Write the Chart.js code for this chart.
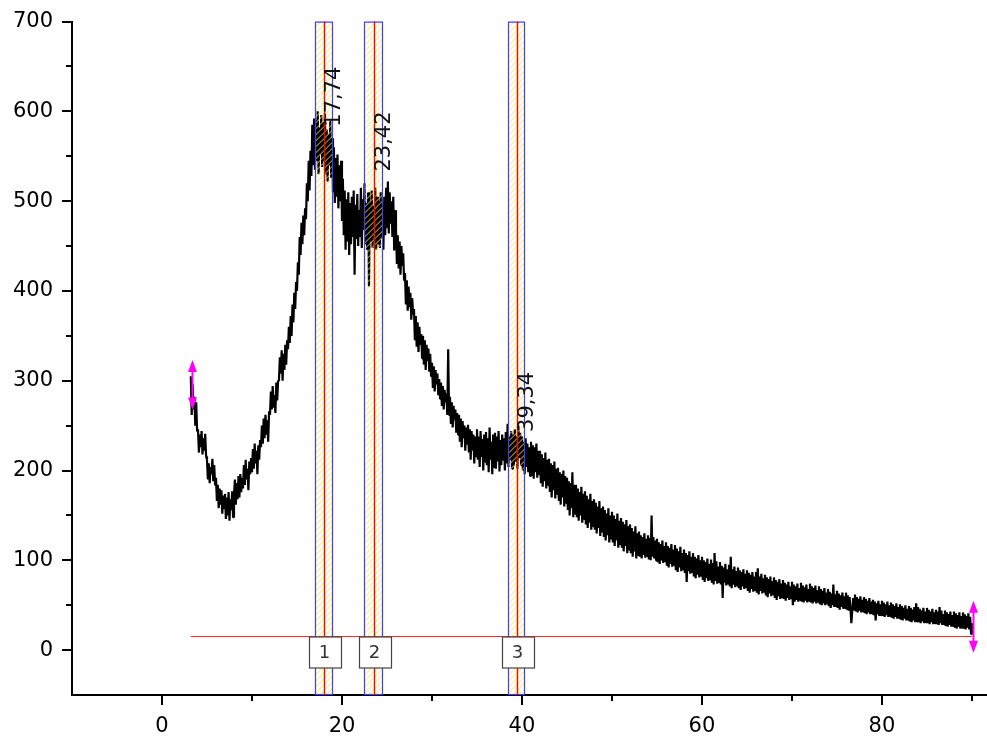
<!DOCTYPE html>
<html><head><meta charset="utf-8">
<script src="https://cdn.jsdelivr.net/npm/chart.js@4"></script>
<style>html,body{margin:0;padding:0;background:#fff;} #wrap{width:987px;height:747px;position:relative;}</style>
</head><body><div id="wrap"><canvas id="c" width="987" height="747"></canvas></div>
<script>
// ---- data ----
const xStart = 3.2, xStep = 0.1;   // sampling grid of the measured pattern (2θ, degrees)
const intensity = [
 305, 262, 296, 268, 282, 250, 276, 244,
 246, 220, 240, 226, 244, 218, 236, 222, 241, 216,
 212, 190, 208, 186, 204, 196, 213, 188, 206, 184,
 192, 166, 184, 158, 180, 162, 178, 152, 172, 158,
 174, 146, 170, 150, 176, 144, 168, 156, 177, 148,
 172, 190, 162, 186, 168, 194, 170, 196, 176, 192,
 180, 206, 184, 212, 190, 202, 178, 210, 196, 214,
 198, 224, 202, 230, 208, 222, 196, 228, 212, 234,
 226, 250, 230, 258, 236, 262, 240, 256, 232, 266,
 262, 288, 268, 294, 270, 284, 264, 298, 278, 300,
 302, 326, 308, 334, 300, 330, 312, 340, 318, 345,
 335, 360, 342, 372, 350, 385, 365, 398, 380, 410,
 400, 432, 418, 460, 440, 476, 452, 484, 462, 492,
 480, 520, 500, 545, 512, 556, 528, 585, 540, 592,
 535, 590, 545, 600, 530, 582, 552, 596, 538, 588,
 545, 598, 530, 580, 522, 575, 540, 590, 526, 570,
 510, 560, 498, 548, 505, 552, 492, 540, 500, 545,
 478, 525, 462, 512, 446, 502, 455, 510, 440, 498,
 452, 505, 460, 512, 418, 496, 458, 508, 450, 490,
 460, 515, 448, 502, 468, 520, 452, 498, 446, 510,
 405, 500, 455, 512, 448, 495, 462, 515, 446, 505,
 452, 500, 448, 510, 458, 495, 446, 505, 462, 515,
 470, 522, 464, 510, 475, 500, 460, 505, 445, 490,
 470, 430, 462, 425, 455, 418, 450, 428, 442, 412,
 420, 385, 412, 378, 405, 382, 398, 368, 392, 375,
 380, 345, 372, 338, 365, 332, 360, 340, 352, 325,
 350, 318, 345, 312, 340, 322, 336, 310, 330, 305,
 320, 292, 316, 288, 312, 296, 308, 284, 302, 280,
 298, 272, 294, 268, 290, 276, 286, 262, 335, 262,
 282, 252, 276, 248, 272, 256, 268, 242, 264, 240,
 262, 232, 258, 226, 255, 236, 250, 222, 248, 230,
 251, 220, 246, 212, 244, 222, 240, 208, 238, 216,
 246, 212, 238, 204, 244, 215, 235, 200, 240, 210,
 243, 206, 236, 198, 248, 212, 232, 196, 240, 204,
 242, 202, 238, 210, 244, 199, 234, 206, 240, 212,
 236, 200, 243, 208, 252, 204, 238, 212, 244, 202,
 240, 205, 246, 210, 238, 202, 250, 214, 242, 206,
 238, 200, 232, 196, 236, 204, 230, 198, 226, 194,
 232, 194, 228, 191, 226, 198, 230, 192, 222, 196,
 222, 186, 218, 182, 214, 188, 220, 180, 212, 184,
 213, 176, 208, 170, 206, 178, 210, 169, 202, 174,
 203, 166, 198, 162, 196, 170, 200, 160, 194, 164,
 192, 156, 188, 150, 186, 158, 198, 148, 184, 152,
 184, 148, 180, 144, 176, 150, 182, 142, 174, 146,
 177, 140, 172, 136, 168, 142, 174, 134, 166, 138,
 168, 134, 164, 130, 160, 136, 166, 127, 158, 132,
 160, 126, 156, 122, 152, 128, 158, 120, 150, 124,
 154, 120, 150, 116, 146, 122, 152, 114, 144, 118,
 147, 114, 143, 110, 140, 116, 145, 108, 138, 112,
 140, 108, 136, 104, 132, 110, 138, 102, 130, 106,
 132, 104, 128, 102, 126, 106, 130, 103, 124, 105,
 128, 101, 125, 100, 150, 104, 126, 102, 122, 100,
 124, 98, 120, 96, 118, 100, 122, 97, 116, 99,
 120, 94, 116, 92, 114, 96, 118, 93, 112, 95,
 117, 89, 113, 87, 110, 92, 115, 88, 108, 90,
 112, 86, 108, 76, 106, 88, 110, 85, 104, 87,
 108, 82, 104, 80, 102, 84, 106, 81, 100, 83,
 104, 78, 100, 76, 98, 80, 102, 77, 96, 79,
 101, 75, 97, 73, 108, 77, 99, 74, 93, 76,
 98, 73, 94, 58, 92, 75, 96, 72, 90, 74,
 95, 71, 104, 69, 90, 73, 93, 70, 88, 72,
 92, 69, 89, 67, 87, 71, 90, 68, 85, 70,
 89, 66, 86, 64, 84, 68, 87, 65, 82, 67,
 87, 64, 91, 62, 82, 66, 85, 63, 80, 65,
 84, 61, 81, 59, 79, 63, 82, 60, 77, 62,
 81, 58, 78, 56, 76, 60, 79, 57, 74, 59,
 78, 57, 75, 55, 73, 58, 76, 56, 71, 58,
 76, 50, 73, 54, 71, 56, 74, 54, 69, 56,
 75, 54, 72, 53, 70, 55, 73, 53, 68, 55,
 74, 53, 71, 52, 69, 54, 72, 52, 67, 54,
 71, 51, 68, 50, 66, 52, 69, 50, 64, 52,
 68, 49, 65, 47, 63, 50, 73, 48, 62, 49,
 66, 47, 63, 45, 61, 48, 64, 46, 60, 47,
 64, 45, 61, 44, 59, 46, 30, 44, 58, 45,
 62, 43, 59, 42, 57, 44, 60, 42, 56, 43,
 59, 41, 57, 40, 55, 42, 58, 40, 54, 41,
 56, 39, 54, 33, 52, 40, 55, 38, 51, 39,
 55, 38, 53, 37, 51, 39, 54, 37, 50, 38,
 53, 36, 51, 35, 49, 37, 52, 35, 48, 36,
 51, 34, 49, 33, 47, 35, 50, 33, 46, 34,
 49, 32, 47, 31, 45, 33, 48, 31, 52, 32,
 48, 31, 46, 30, 44, 32, 47, 30, 43, 31,
 47, 30, 45, 29, 43, 31, 46, 29, 42, 30,
 45, 29, 43, 28, 48, 30, 44, 28, 40, 29,
 44, 27, 42, 26, 40, 28, 43, 26, 39, 27,
 43, 25, 41, 24, 39, 26, 42, 24, 38, 25,
 42, 24, 40, 23, 38, 25, 41, 23, 37, 18,
 30
];
const xTicks = [0, 20, 40, 60, 80];
const xMinorTicks = [10, 30, 50, 70, 90];
const yTicks = [0, 100, 200, 300, 400, 500, 600, 700];
const yMinorTicks = [50, 150, 250, 350, 450, 550, 650];
const peakPositions = [17.96, 23.51, 39.4];
const peakHalfWidths = [1.0, 1.02, 0.94];
const peakLabels = ['17,74', '23,42', '39,34'];
const peakLabelStart = [583, 533, 243];
const peakIds = ['1', '2', '3'];
const baselineLevel = 16;
const baselineRange = [3.2, 90.0];
const anchorMarkers = [{x: 3.3, lo: 268, hi: 323}, {x: 90.1, lo: -3, hi: 55}];

const points = intensity.map((v, i) => ({x: +(xStart + i * xStep).toFixed(2), y: v}));

const FONT = 'DejaVu Sans';

const overlay = {
  id: 'overlay',
  afterDatasetsDraw(chart) {
    const {ctx, chartArea: a, scales: {x, y}} = chart;
    ctx.save();
    // minor ticks
    ctx.strokeStyle = '#000'; ctx.lineWidth = 2;
    xMinorTicks.forEach(v => {
      const px = Math.round(x.getPixelForValue(v));
      ctx.beginPath(); ctx.moveTo(px, a.bottom); ctx.lineTo(px, a.bottom + 6); ctx.stroke();
    });
    yMinorTicks.forEach(v => {
      const py = Math.round(y.getPixelForValue(v));
      ctx.beginPath(); ctx.moveTo(a.left, py); ctx.lineTo(a.left - 6, py); ctx.stroke();
    });
    // baseline
    const by = Math.round(y.getPixelForValue(baselineLevel)) + 0.5;
    ctx.strokeStyle = '#ff2a2a'; ctx.lineWidth = 1.2;
    ctx.beginPath();
    ctx.moveTo(x.getPixelForValue(baselineRange[0]), by);
    ctx.lineTo(x.getPixelForValue(baselineRange[1]), by);
    ctx.stroke();
    // peak bands
    const top = y.getPixelForValue(700), bot = a.bottom;
    peakPositions.forEach((p, i) => {
      const l = Math.round(x.getPixelForValue(p - peakHalfWidths[i]));
      const r = Math.round(x.getPixelForValue(p + peakHalfWidths[i]));
      const w = r - l;
      ctx.save();
      ctx.beginPath(); ctx.rect(l, top, w, bot - top); ctx.clip();
      ctx.strokeStyle = 'rgba(255,228,40,0.9)'; ctx.lineWidth = 1;
      for (let yy = top; yy < bot + w + 6; yy += 6) {
        ctx.beginPath(); ctx.moveTo(l, yy); ctx.lineTo(r, yy - w); ctx.stroke();
      }
      ctx.restore();
      ctx.strokeStyle = '#3c3cff'; ctx.lineWidth = 1.2;
      ctx.strokeRect(l + 0.5, top + 0.5, w - 1, bot - top - 1);
      const cx = Math.round(x.getPixelForValue(p)) + 0.5;
      ctx.strokeStyle = '#ff0000'; ctx.lineWidth = 1.4;
      ctx.beginPath(); ctx.moveTo(cx, top); ctx.lineTo(cx, bot); ctx.stroke();
      // id box
      const bw = 32, bh = 31;
      const bx = Math.round(cx - bw / 2) + 0.5, byy = Math.round(by);
      ctx.fillStyle = '#fff'; ctx.fillRect(bx, byy, bw, bh);
      ctx.strokeStyle = '#444'; ctx.lineWidth = 1.2; ctx.strokeRect(bx, byy, bw, bh);
      ctx.fillStyle = '#333'; ctx.font = '18px "' + FONT + '"';
      ctx.textAlign = 'center'; ctx.textBaseline = 'middle';
      ctx.fillText(peakIds[i], cx, byy + bh / 2 + 1);
      // rotated label
      ctx.save();
      ctx.translate(cx + 10, y.getPixelForValue(peakLabelStart[i]));
      ctx.rotate(-Math.PI / 2);
      ctx.fillStyle = '#111'; ctx.font = '21px "' + FONT + '"';
      ctx.textAlign = 'left'; ctx.textBaseline = 'middle';
      ctx.fillText(peakLabels[i], 0, 0);
      ctx.restore();
    });
    // anchor markers
    anchorMarkers.forEach(m => {
      const px = Math.round(x.getPixelForValue(m.x)) + 0.5;
      const t = y.getPixelForValue(m.hi), b = y.getPixelForValue(m.lo);
      ctx.strokeStyle = '#ff00ff'; ctx.fillStyle = '#ff00ff'; ctx.lineWidth = 2;
      ctx.beginPath(); ctx.moveTo(px, t + 8); ctx.lineTo(px, b - 8); ctx.stroke();
      ctx.beginPath(); ctx.moveTo(px, t); ctx.lineTo(px - 4.5, t + 12); ctx.lineTo(px + 4.5, t + 12); ctx.closePath(); ctx.fill();
      ctx.beginPath(); ctx.moveTo(px, b); ctx.lineTo(px - 4.5, b - 12); ctx.lineTo(px + 4.5, b - 12); ctx.closePath(); ctx.fill();
    });
    ctx.restore();
  }
};

const axisGrid = {display: true, drawOnChartArea: false, drawTicks: true, tickLength: 10, color: '#000', lineWidth: 2};
const axisBorder = {display: true, color: '#000', width: 2};
const tickFont = {family: FONT, size: 21};

new Chart(document.getElementById('c'), {
  type: 'line',
  data: {datasets: [{
    data: points, borderColor: '#000', borderWidth: 2.2, borderJoinStyle: 'bevel',
    pointRadius: 0, tension: 0, fill: false
  }]},
  options: {
    responsive: false, animation: false,
    layout: {padding: {top: 16, right: 1, left: 0, bottom: 0}},
    plugins: {legend: {display: false}, tooltip: {enabled: false}},
    scales: {
      x: {
        type: 'linear', min: -10, max: 91.56,
        afterBuildTicks: s => { s.ticks = xTicks.map(v => ({value: v})); },
        afterFit: s => { s.height = 52; },
        grid: axisGrid, border: axisBorder,
        ticks: {color: '#000', font: tickFont, padding: 9, maxRotation: 0, autoSkip: false, callback: v => String(v)}
      },
      y: {
        type: 'linear', min: -50, max: 700,
        afterBuildTicks: s => { s.ticks = yTicks.map(v => ({value: v})); },
        afterFit: s => { s.width = 72; },
        grid: axisGrid, border: axisBorder,
        ticks: {color: '#000', font: tickFont, padding: 9, autoSkip: false, callback: v => String(v)}
      }
    }
  },
  plugins: [overlay]
});
</script>
</body></html>
